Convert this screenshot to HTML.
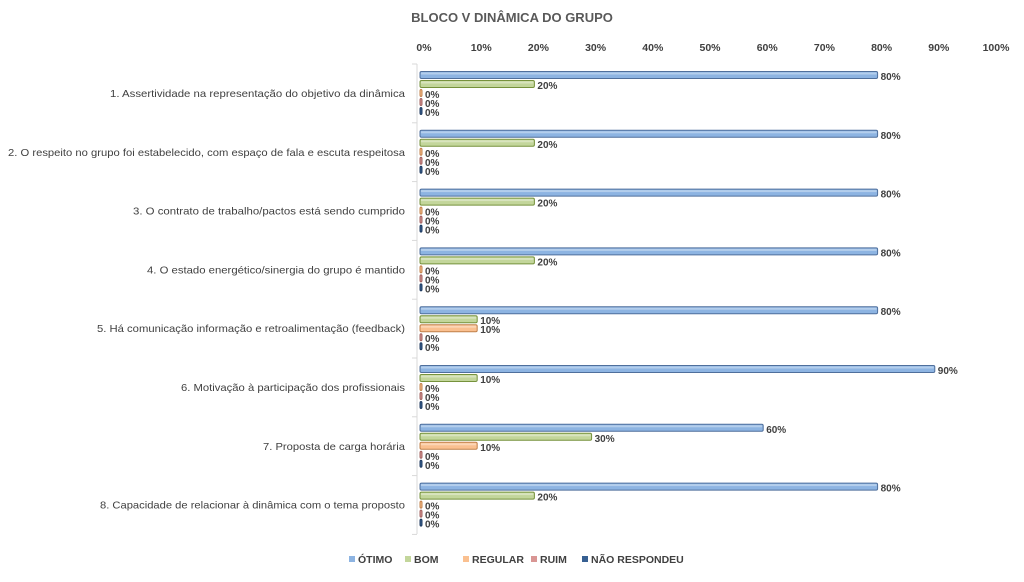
<!DOCTYPE html>
<html><head><meta charset="utf-8"><style>
body{margin:0;background:#fff;}
svg text{font-family:"Liberation Sans Narrow","Liberation Sans",sans-serif;fill:#404040;font-weight:bold;}
</style></head><body>
<svg id="c" width="1024" height="577" xmlns="http://www.w3.org/2000/svg">
<text x="512" y="22" text-anchor="middle" font-size="13" fill="#595959" style="fill:#595959">BLOCO V DINÂMICA DO GRUPO</text>
</svg>
<script>
const s=document.getElementById('c');let h='';
const X0=420,W=572;
for(let i=0;i<=10;i++){h+=`<text x="${X0+i*W/10+4}" y="51" text-anchor="middle" font-size="10.5">${i*10}%</text>`;}
h+=`<line x1="417" y1="64" x2="417" y2="534" stroke="#d9d9d9"/>`;
for(let k=0;k<=8;k++){h+=`<line x1="412" y1="${64+k*58.8}" x2="417" y2="${64+k*58.8}" stroke="#d9d9d9"/>`;}
const cats=[["1. Assertividade na representação do objetivo da dinâmica",295],["2. O respeito no grupo foi estabelecido, com espaço de fala e escuta respeitosa",397],["3. O contrato de trabalho/pactos está sendo cumprido",272],["4. O estado energético/sinergia do grupo é mantido",258],["5. Há comunicação informação e retroalimentação (feedback)",308],["6. Motivação à participação dos profissionais",224],["7. Proposta de carga horária",142],["8. Capacidade de relacionar à dinâmica com o tema proposto",305]];
const data=[[80,20,0,0,0],[80,20,0,0,0],[80,20,0,0,0],[80,20,0,0,0],[80,10,10,0,0],[90,10,0,0,0],[60,30,10,0,0],[80,20,0,0,0]];
const fill=['#8db4e2','#c3d69b','#fac090','#d99694','#376092'],str=['#4f6f9c','#76923c','#c0804a','#a0605e','#1f3a5f'];
for(let k=0;k<8;k++){const c=64+k*58.8+29;
h+=`<text x="405" y="${c+4}" text-anchor="end" font-size="10.5" textLength="${cats[k][1]}" lengthAdjust="spacingAndGlyphs" style="font-weight:normal;fill:#404040">${cats[k][0]}</text>`;
for(let j=0;j<5;j++){const y=c-18+j*9,v=data[k][j],w=Math.max(v*W/100,2);
h+=`<rect x="${X0}" y="${y-3.5}" width="${w}" height="7" rx="1.5" fill="${fill[j]}" stroke="${str[j]}" stroke-width="1"/>`;
h+=`<rect x="${X0+1}" y="${y-2.5}" width="${Math.max(w-2,0)}" height="2" fill="#fff" opacity="0.35"/>`;
h+=`<text x="${X0+w+3}" y="${y+5}" font-size="10">${v}%</text>`;}}
const leg=[["ÓTIMO",349],["BOM",405],["REGULAR",463],["RUIM",531],["NÃO RESPONDEU",582]];
leg.forEach((l,j)=>{h+=`<rect x="${l[1]}" y="556" width="6" height="6" fill="${fill[j]}"/><text x="${l[1]+9}" y="563" font-size="10.5">${l[0]}</text>`;});
s.insertAdjacentHTML('beforeend',h);
</script>
</body></html>
